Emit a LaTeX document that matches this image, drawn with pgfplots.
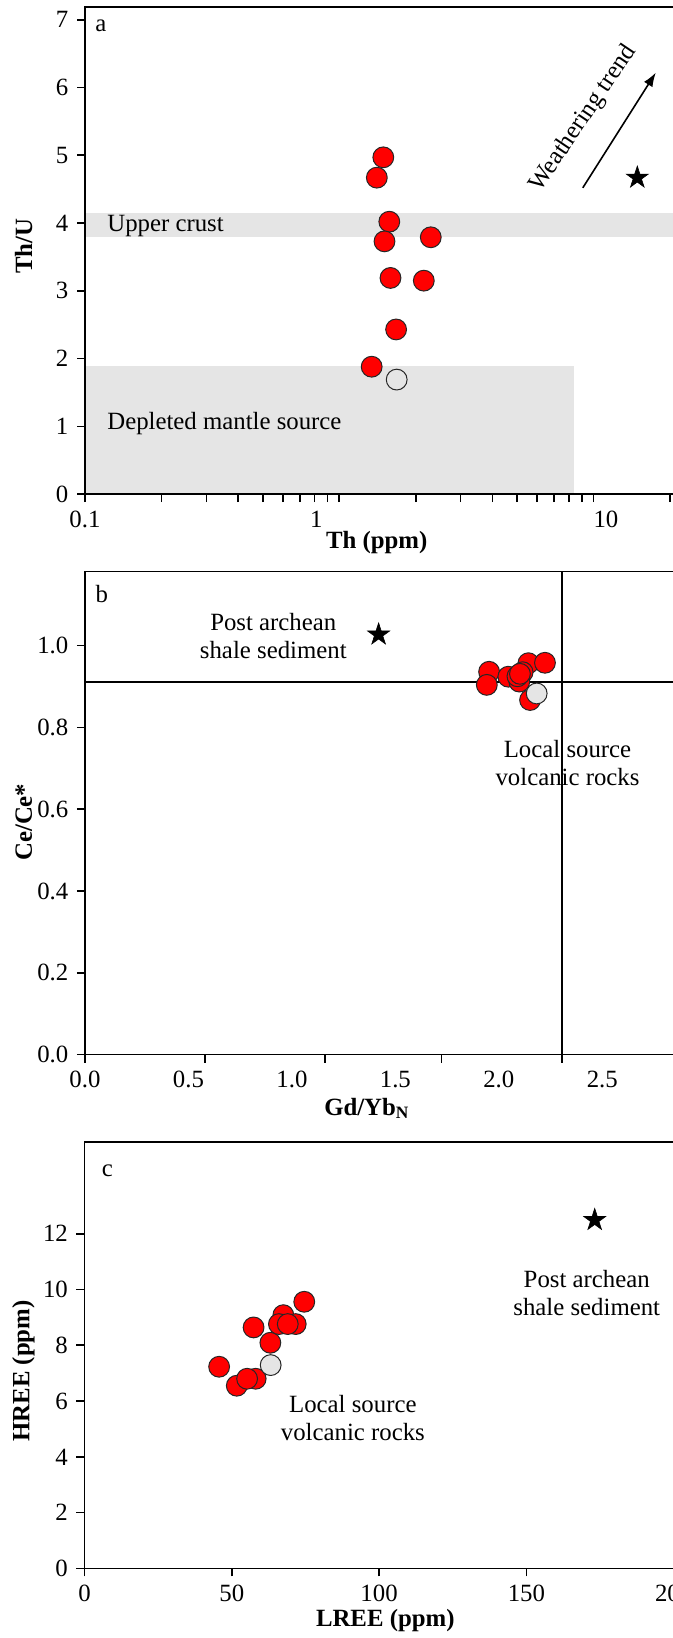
\documentclass[border=0pt]{standalone}
\usepackage{fontspec}
\setmainfont{Liberation Serif}
\usepackage{pgfplots}
\pgfplotsset{compat=1.18}
\usetikzlibrary{arrows.meta}

% filled five-pointed star for the reference sediment
\pgfdeclareplotmark{fstar}{%
  \pgfpathmoveto{\pgfpointpolar{90}{\pgfplotmarksize}}%
  \pgfpathlineto{\pgfpointpolar{126}{0.382\pgfplotmarksize}}%
  \pgfpathlineto{\pgfpointpolar{162}{\pgfplotmarksize}}%
  \pgfpathlineto{\pgfpointpolar{198}{0.382\pgfplotmarksize}}%
  \pgfpathlineto{\pgfpointpolar{234}{\pgfplotmarksize}}%
  \pgfpathlineto{\pgfpointpolar{270}{0.382\pgfplotmarksize}}%
  \pgfpathlineto{\pgfpointpolar{306}{\pgfplotmarksize}}%
  \pgfpathlineto{\pgfpointpolar{342}{0.382\pgfplotmarksize}}%
  \pgfpathlineto{\pgfpointpolar{18}{\pgfplotmarksize}}%
  \pgfpathlineto{\pgfpointpolar{54}{0.382\pgfplotmarksize}}%
  \pgfpathclose
  \pgfusepathqfillstroke
}

\pgfplotsset{
  panel/.style={
    scale only axis, anchor=south west,
    axis line style={line width=0.8pt},
    tick style={black, line width=0.8pt},
    tick align=outside, major tick length=4pt, minor tick length=4pt,
    xtick pos=bottom, ytick pos=left,
    /pgf/number format/assume math mode=true,
    ylabel style={anchor=center},
    xlabel style={anchor=base},
    axis on top,
  },
  red pt/.style={only marks, mark=*, mark size=5.2pt,
    mark options={fill=red, draw=black!85, line width=0.5pt}},
  grey pt/.style={only marks, mark=*, mark size=5.2pt,
    mark options={fill=gray!20, draw=black!85, line width=0.5pt}},
  ref star/.style={only marks, mark=fstar, mark size=5.8pt,
    mark options={fill=black, draw=black, line width=0.3pt}},
}

\begin{document}
\fontsize{12.4}{14}\selectfont
\begin{tikzpicture}
\useasboundingbox (0,0) rectangle (336.5pt,-819pt);
\clip (0,0) rectangle (336.5pt,-819pt);

% ---------------- (a) Th/U vs Th ----------------
\begin{axis}[panel,
    at={(42.5pt,-247.05pt)}, width=295.25pt, height=243.6pt,
    xmode=log, xmin=0.1, xmax=21, ymin=0, ymax=7.19,
    xtick={0.1,0.813,11.19}, xticklabels={0.1,1,10},
    major x tick style={draw=none},
    minor xtick={0.1,0.2,0.3,0.4,0.5,0.6,0.7,0.8,0.9,1,2,3,4,5,6,7,8,9,10,20},
    ytick={0,1,2,3,4,5,6,7},
    xlabel={\textbf{Th (ppm)}},
    xlabel style={at={(axis description cs:0.494,0)}, yshift=-27pt},
    ylabel={\textbf{Th/U}},
    ylabel style={at={(axis description cs:-0.104,0.509)}},
  ]
  \addplot[fill=gray!20, draw=none] coordinates {(0.1,3.80) (21,3.80) (21,4.155) (0.1,4.155)} -- cycle;
  \addplot[fill=gray!20, draw=none] coordinates {(0.1,0) (8.36,0) (8.36,1.89) (0.1,1.89)} -- cycle;
  \addplot[red pt] coordinates {
    (1.49,4.97) (1.405,4.67) (1.573,4.02) (1.506,3.73) (2.29,3.79)
    (1.59,3.19) (2.15,3.15) (1.673,2.43) (1.341,1.88)};
  \addplot[only marks, mark=o, mark size=5.2pt,
    mark options={draw=black!85, line width=0.5pt}] coordinates {(1.682,1.69)};
  \addplot[ref star] coordinates {(14.86,4.67)};
  \addplot[-{Latex[length=7pt,width=5pt]}, line width=0.8pt] coordinates {(9.07,4.52) (17.57,6.22)};
  \node at (axis cs:0.1155,6.91) {a};
  \node[anchor=west, inner sep=0pt] at (axis cs:0.122,3.96) {Upper crust};
  \node[anchor=west, inner sep=0pt] at (axis cs:0.122,1.04) {Depleted mantle source};
  \node[rotate=56] at (axis cs:9.135,5.54) {Weathering trend};
\end{axis}

% ---------------- (b) Ce/Ce* vs Gd/Yb_N ----------------
\begin{axis}[panel,
    at={(42.5pt,-527.3pt)}, width=294.85pt, height=241.6pt,
    xmin=0, xmax=2.85, ymin=0, ymax=1.1814,
    xtick={0,0.5,1,1.5,2,2.5}, xticklabels={0.0,0.5,1.0,1.5,2.0,2.5},
    major x tick style={draw=none},
    minor xtick={0,0.58,1.16,1.722,2.304},
    ytick={0,0.2,0.4,0.6,0.8,1.0}, yticklabels={0.0,0.2,0.4,0.6,0.8,1.0},
    xlabel={\textbf{Gd/Yb\textsubscript{N}}},
    xlabel style={at={(axis description cs:0.478,0)}, yshift=-30.2pt},
    ylabel={\textbf{Ce/Ce*}},
    ylabel style={at={(axis description cs:-0.104,0.481)}},
  ]
  \addplot[line width=0.8pt] coordinates {(0,0.911) (2.85,0.911)};
  \addplot[line width=0.8pt] coordinates {(2.304,0) (2.304,1.1814)};
  \addplot[red pt] coordinates {
    (2.151,0.867) (1.953,0.936) (1.942,0.904) (2.046,0.924) (2.143,0.957)
    (2.223,0.958) (2.115,0.935) (2.099,0.912) (2.09,0.925) (2.102,0.931)};
  \addplot[grey pt] coordinates {(2.183,0.883)};
  \addplot[ref star] coordinates {(1.419,1.027)};
  \node at (axis cs:0.081,1.127) {b};
  \node[align=center] at (axis cs:0.91,1.024) {Post archean\\shale sediment};
  \node[align=center] at (axis cs:2.332,0.712) {Local source\\volcanic rocks};
\end{axis}

% ---------------- (c) HREE vs LREE ----------------
\begin{axis}[panel,
    at={(42.25pt,-784.2pt)}, width=296.05pt, height=213.1pt,
    xmin=0, xmax=201, ymin=0, ymax=15.28,
    xtick={0,50,100,150,200}, ytick={0,2,4,6,8,10,12},
    xlabel={\textbf{LREE (ppm)}},
    xlabel style={at={(axis description cs:0.508,0)}, yshift=-28.8pt},
    ylabel={\textbf{HREE (ppm)}},
    ylabel style={at={(axis description cs:-0.103,0.463)}},
  ]
  \addplot[red pt] coordinates {
    (45.7,7.23) (51.7,6.55) (58.1,6.8) (55.2,6.8) (57.4,8.64) (63.1,8.09)
    (67.5,9.08) (66.0,8.76) (71.7,8.76) (69.0,8.76) (74.6,9.56)};
  \addplot[grey pt] coordinates {(63.2,7.29)};
  \addplot[ref star] coordinates {(173.2,12.49)};
  \node at (axis cs:7.74,14.27) {c};
  \node[align=center] at (axis cs:170.5,9.87) {Post archean\\shale sediment};
  \node[align=center] at (axis cs:91.1,5.41) {Local source\\volcanic rocks};
\end{axis}
\end{tikzpicture}
\end{document}
